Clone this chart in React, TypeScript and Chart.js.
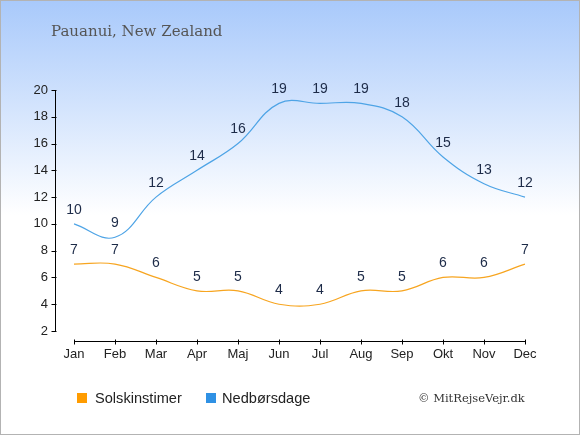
import React, { useEffect, useRef } from 'react';
import { Chart, registerables, type Plugin } from 'chart.js';

Chart.register(...registerables);

// Data
const months = ['Jan', 'Feb', 'Mar', 'Apr', 'Maj', 'Jun', 'Jul', 'Aug', 'Sep', 'Okt', 'Nov', 'Dec'];
const sunHours = [7, 7, 6, 5, 5, 4, 4, 5, 5, 6, 6, 7];
const rainDays = [10, 9, 12, 14, 16, 19, 19, 19, 18, 15, 13, 12];
const yTicks = [2, 4, 6, 8, 10, 12, 14, 16, 18, 20];

const SANS = '"Liberation Sans", Arial, sans-serif';
const SERIF = '"DejaVu Serif", Georgia, serif';
const SUN_COLOR = '#f7a520';
const RAIN_COLOR = '#4ea4e6';

// Draws the detached axis lines with their small tick marks
const axisLines: Plugin<'line'> = {
  id: 'axisLines',
  afterDraw(chart) {
    const { ctx, chartArea } = chart;
    const x = chart.scales.x;
    const y = chart.scales.y;
    ctx.save();
    ctx.strokeStyle = '#000';
    ctx.lineWidth = 1;

    const ax = Math.round(chartArea.left - 19) + 0.5;
    ctx.beginPath();
    ctx.moveTo(ax, y.getPixelForValue(20));
    ctx.lineTo(ax, y.getPixelForValue(2));
    yTicks.forEach((v) => {
      const py = Math.round(y.getPixelForValue(v)) + 0.5;
      ctx.moveTo(ax - 4, py);
      ctx.lineTo(ax + 1, py);
    });
    ctx.stroke();

    const ay = Math.round(chartArea.bottom + 10) + 0.5;
    ctx.beginPath();
    ctx.moveTo(x.getPixelForValue(0), ay);
    ctx.lineTo(x.getPixelForValue(months.length - 1), ay);
    months.forEach((_, i) => {
      const px = Math.round(x.getPixelForValue(i)) + 0.5;
      ctx.moveTo(px, ay - 2);
      ctx.lineTo(px, ay + 3);
    });
    ctx.stroke();
    ctx.restore();
  }
};

// Value labels above every point
const valueLabels: Plugin<'line'> = {
  id: 'valueLabels',
  afterDatasetsDraw(chart) {
    const { ctx } = chart;
    ctx.save();
    ctx.font = `14px ${SANS}`;
    ctx.fillStyle = '#1d2b48';
    ctx.textAlign = 'center';
    ctx.textBaseline = 'middle';
    chart.data.datasets.forEach((ds, di) => {
      const meta = chart.getDatasetMeta(di);
      meta.data.forEach((pt, i) => {
        ctx.fillText(String(ds.data[i]), pt.x, pt.y - 14);
      });
    });
    ctx.restore();
  }
};

const App: React.FC = () => {
  const canvasRef = useRef<HTMLCanvasElement>(null);

  useEffect(() => {
    if (!canvasRef.current) return;
    const chart = new Chart(canvasRef.current, {
      type: 'line',
      data: {
        labels: months,
        datasets: [
          {
            label: 'Solskinstimer',
            data: sunHours,
            borderColor: SUN_COLOR,
            borderWidth: 1.2,
            pointRadius: 0,
            tension: 0.4,
            fill: false
          },
          {
            label: 'Nedbørsdage',
            data: rainDays,
            borderColor: RAIN_COLOR,
            borderWidth: 1.2,
            pointRadius: 0,
            tension: 0.4,
            fill: false
          }
        ]
      },
      options: {
        responsive: false,
        animation: false,
        layout: { padding: { left: 0, right: 55, top: 90, bottom: 74 } },
        plugins: {
          legend: { display: false },
          tooltip: { enabled: false }
        },
        scales: {
          x: {
            offset: false,
            grid: { display: false, drawTicks: false },
            border: { display: false },
            ticks: { color: '#222', font: { family: SANS, size: 13 }, padding: 16, maxRotation: 0 },
            afterFit: (s) => {
              s.height = 30;
            }
          },
          y: {
            min: 2,
            max: 20,
            grid: { display: false, drawTicks: false },
            border: { display: false },
            ticks: { stepSize: 2, color: '#222', font: { family: SANS, size: 13 }, padding: 26 },
            afterFit: (s) => {
              s.width = 74;
            }
          }
        }
      },
      plugins: [axisLines, valueLabels]
    });
    return () => chart.destroy();
  }, []);

  return (
    <div
      style={{
        position: 'absolute',
        left: 0,
        top: 0,
        width: 580,
        height: 435,
        background: 'linear-gradient(to bottom, #a8c9fb 0px, #ffffff 215px, #ffffff 435px)',
        overflow: 'hidden'
      }}
    >
      <canvas ref={canvasRef} width={580} height={435} style={{ position: 'absolute', left: 0, top: 0 }} />
      <div
        style={{
          position: 'absolute',
          left: 51,
          top: 22,
          font: `15px ${SERIF}`,
          color: '#555',
          whiteSpace: 'nowrap'
        }}
      >
        Pauanui, New Zealand
      </div>
      <div style={{ position: 'absolute', left: 77, top: 393, width: 10, height: 10, background: '#ff9c00' }} />
      <div style={{ position: 'absolute', left: 95, top: 389, font: `14.6px ${SANS}`, color: '#222', lineHeight: '18px' }}>
        Solskinstimer
      </div>
      <div style={{ position: 'absolute', left: 206, top: 393, width: 10, height: 10, background: '#2f91e4' }} />
      <div style={{ position: 'absolute', left: 222, top: 389, font: `14.6px ${SANS}`, color: '#222', lineHeight: '18px' }}>
        Nedbørsdage
      </div>
      <div
        style={{
          position: 'absolute',
          left: 418,
          top: 389,
          font: `11.5px ${SERIF}`,
          color: '#333',
          lineHeight: '18px',
          whiteSpace: 'nowrap'
        }}
      >
        © MitRejseVejr.dk
      </div>
      <div
        style={{
          position: 'absolute',
          left: 0,
          top: 0,
          width: 580,
          height: 435,
          boxSizing: 'border-box',
          border: '1px solid #b3b3b3',
          pointerEvents: 'none'
        }}
      />
    </div>
  );
};

export default App;
